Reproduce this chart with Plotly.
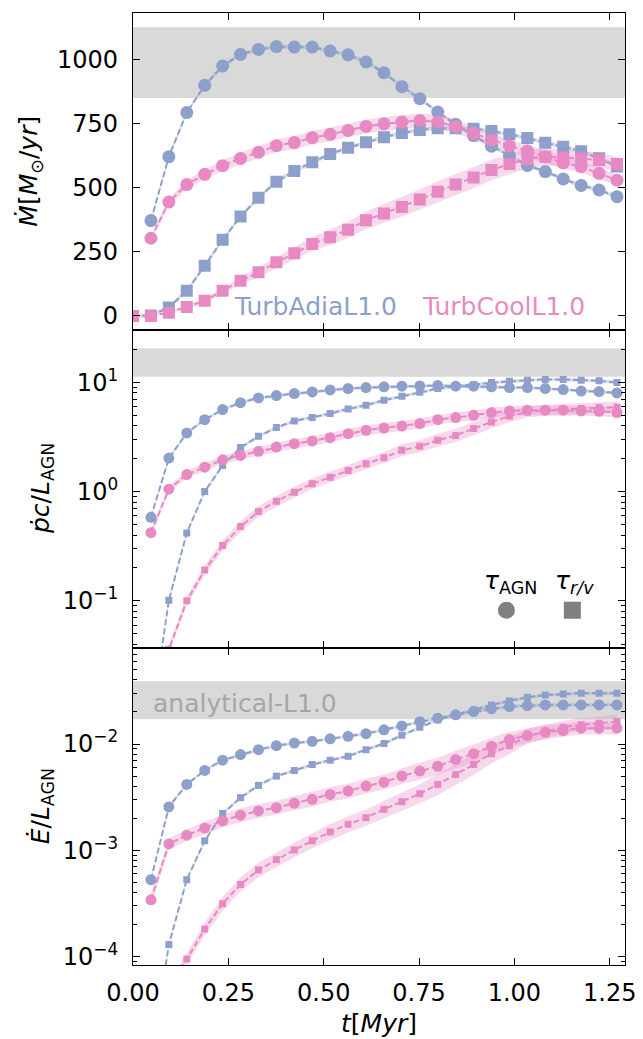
import numpy as np
import plotly.graph_objects as go
from plotly.subplots import make_subplots

# ---------------- data ----------------
t = [0.047, 0.094, 0.141, 0.188, 0.235, 0.282, 0.329, 0.376, 0.423, 0.470,
     0.517, 0.564, 0.611, 0.658, 0.705, 0.752, 0.799, 0.846, 0.893, 0.940,
     0.987, 1.034, 1.081, 1.128, 1.175, 1.222, 1.269]
t_rv_top = [0.000, 0.047, 0.094, 0.141, 0.188, 0.235, 0.282, 0.329, 0.376, 0.423,
            0.470, 0.517, 0.564, 0.611, 0.658, 0.705, 0.752, 0.799, 0.846, 0.893,
            0.940, 0.987, 1.034, 1.081, 1.128, 1.175, 1.222, 1.269]

# Mdot [Msun/yr]
mdot_adia_agn = [372, 621, 793, 899, 974, 1020, 1039, 1050, 1048, 1048, 1033, 1018, 990, 948,
                 894, 847, 795, 747, 703, 662, 625, 587, 563, 534, 509, 491, 465]
mdot_adia_rv = [0, 2, 33, 98, 196, 297, 388, 461, 523, 565, 599, 631, 656, 677, 697, 713,
                725, 732, 732, 730, 721, 708, 694, 675, 660, 642, 615, 583]
mdot_cool_agn = [303, 444, 512, 552, 586, 614, 638, 664, 676, 695, 708, 723, 739, 749, 756,
                 762, 756, 739, 712, 686, 663, 643, 621, 597, 582, 556, 529]
mdot_cool_rv = [0, 0, 13, 35, 59, 98, 137, 170, 209, 244, 281, 307, 336, 373, 399, 425, 454,
                484, 512, 540, 569, 592, 612, 621, 618, 614, 608, 592]

# pdot c / L_AGN
pdot_adia_agn = [0.58, 2.02, 3.43, 4.54, 5.61, 6.5, 7.18, 7.55, 7.87, 8.15, 8.5, 8.75, 8.93,
                 9.06, 9.19, 9.25, 9.32, 9.19, 9.19, 9.06, 8.93, 8.93, 8.75, 8.56, 8.3, 8.2, 7.98]
pdot_adia_rv = [0.0076, 0.101, 0.418, 1.0, 1.73, 2.52, 3.2, 3.84, 4.42, 4.74, 5.16, 5.69, 6.15,
                6.84, 7.44, 8.09, 8.75, 9.19, 9.52, 9.93, 10.2, 10.4, 10.6, 10.6, 10.4, 10.3, 9.93]
pdot_cool_agn = [0.42, 1.05, 1.43, 1.67, 1.95, 2.14, 2.33, 2.55, 2.74, 2.9, 3.11, 3.38, 3.63,
                 3.81, 3.97, 4.18, 4.54, 4.74, 4.98, 5.27, 5.46, 5.54, 5.54, 5.54, 5.46, 5.42, 5.27]
pdot_cool_rv = [0.005, 0.036, 0.1, 0.191, 0.32, 0.478, 0.656, 0.815, 0.986, 1.18, 1.35, 1.56,
                1.79, 2.04, 2.38, 2.59, 2.94, 3.26, 3.76, 4.33, 4.88, 5.34, 5.54, 5.65, 5.75,
                5.86, 5.94]

# Edot / L_AGN
edot_adia_agn = [5.3e-4, 2.56e-3, 4.17e-3, 5.64e-3, 7.04e-3, 7.95e-3, 8.85e-3, 9.65e-3, 1.02e-2,
                 1.06e-2, 1.12e-2, 1.18e-2, 1.25e-2, 1.36e-2, 1.48e-2, 1.62e-2, 1.75e-2, 1.88e-2,
                 2.02e-2, 2.14e-2, 2.25e-2, 2.30e-2, 2.33e-2, 2.33e-2, 2.33e-2, 2.33e-2, 2.33e-2]
edot_adia_rv = [1.0e-5, 1.3e-4, 5.3e-4, 1.23e-3, 2.22e-3, 3.13e-3, 4.08e-3, 4.99e-3, 5.63e-3,
                6.41e-3, 7.04e-3, 7.67e-3, 8.85e-3, 1.01e-2, 1.21e-2, 1.44e-2, 1.69e-2, 1.88e-2,
                2.09e-2, 2.33e-2, 2.54e-2, 2.75e-2, 2.89e-2, 2.95e-2, 3.0e-2, 3.0e-2, 3.0e-2]
edot_cool_agn = [3.43e-4, 1.15e-3, 1.39e-3, 1.62e-3, 1.89e-3, 2.14e-3, 2.35e-3, 2.52e-3, 2.77e-3,
                 3.02e-3, 3.36e-3, 3.61e-3, 4.02e-3, 4.38e-3, 4.99e-3, 5.56e-3, 6.18e-3, 7.14e-3,
                 8.12e-3, 9.51e-3, 1.10e-2, 1.20e-2, 1.29e-2, 1.34e-2, 1.41e-2, 1.41e-2, 1.41e-2]
edot_cool_rv = [1.0e-5, 5.0e-5, 9.5e-5, 1.82e-4, 3.15e-4, 4.78e-4, 6.55e-4, 8.18e-4, 1.01e-3,
                1.23e-3, 1.49e-3, 1.76e-3, 2.03e-3, 2.43e-3, 2.87e-3, 3.41e-3, 4.17e-3, 5.17e-3,
                6.41e-3, 8.12e-3, 9.65e-3, 1.18e-2, 1.31e-2, 1.44e-2, 1.52e-2, 1.57e-2, 1.63e-2]

# uncertainty half-widths (linear units for Mdot, dex for the log panels)
band_adia_top = 8
band_cool_agn_top = [10, 14, 17, 19, 21, 23, 24, 25, 26, 27, 27, 27, 27, 27, 27, 27, 27, 27,
                     26, 26, 25, 25, 24, 24, 23, 23, 22]
band_cool_rv_top = [0, 2, 4, 6, 9, 12, 15, 18, 21, 24, 27, 30, 32, 34, 36, 38, 40, 41, 42, 42,
                    40, 38, 36, 34, 32, 30, 29, 28]
band_adia_dex = 0.015
band_cool_agn_mid = [0.03, 0.03, 0.035, 0.035, 0.04, 0.04, 0.04, 0.045, 0.045, 0.045, 0.045,
                     0.045, 0.045, 0.045, 0.045, 0.045, 0.045, 0.045, 0.045, 0.045, 0.045,
                     0.045, 0.045, 0.045, 0.045, 0.045, 0.045]
band_cool_rv_mid = [0.03, 0.04, 0.04, 0.045, 0.05, 0.05, 0.05, 0.05, 0.05, 0.05, 0.05, 0.05,
                    0.05, 0.05, 0.055, 0.055, 0.06, 0.06, 0.06, 0.06, 0.055, 0.05, 0.05, 0.05,
                    0.05, 0.05, 0.05]
band_cool_agn_bot = [0.05, 0.05, 0.055, 0.06, 0.06, 0.065, 0.065, 0.065, 0.065, 0.07, 0.07,
                     0.07, 0.07, 0.07, 0.075, 0.08, 0.08, 0.085, 0.085, 0.08, 0.075, 0.07,
                     0.065, 0.06, 0.06, 0.06, 0.06]
band_cool_rv_bot = [0.05, 0.05, 0.06, 0.06, 0.065, 0.065, 0.07, 0.07, 0.07, 0.07, 0.075, 0.075,
                    0.075, 0.08, 0.085, 0.09, 0.1, 0.1, 0.1, 0.09, 0.08, 0.07, 0.065, 0.06,
                    0.06, 0.06, 0.06]

# analytical ranges (grey bands)
mdot_analytic = [850, 1125]
pdot_analytic = [11.2, 20.4]
edot_analytic = [0.0171, 0.0389]

x_ticks = [0.0, 0.25, 0.5, 0.75, 1.0, 1.25]
mdot_ticks = [0, 250, 500, 750, 1000]
pdot_ticks = [0.1, 1, 10]
pdot_ticktext = ["10<sup>−1</sup>", "10<sup>0</sup>", "10<sup>1</sup>"]
edot_ticks = [1e-4, 1e-3, 1e-2]
edot_ticktext = ["10<sup>−4</sup>", "10<sup>−3</sup>", "10<sup>−2</sup>"]

# ---------------- style ----------------
BLUE = "#8da0cb"
PINK = "#e78ac3"
BLUE_BAND = "rgba(141,160,203,0.35)"
PINK_BAND = "rgba(231,138,195,0.32)"
GREY_BAND = "#d9d9d9"
FONT = "DejaVu Sans"
FS = 24

fig = make_subplots(rows=3, cols=1, shared_xaxes=True, vertical_spacing=0)


def add_grey(row, lims):
    fig.add_trace(go.Scatter(x=[-1, 2, 2, -1], y=[lims[0], lims[0], lims[1], lims[1]],
                             fill="toself", fillcolor=GREY_BAND, mode="lines",
                             line=dict(width=0), hoverinfo="skip", showlegend=False),
                  row=row, col=1)


def add_band(row, x, lo, hi, color):
    fig.add_trace(go.Scatter(x=list(x) + list(x)[::-1], y=list(hi) + list(lo)[::-1],
                             fill="toself", fillcolor=color, mode="lines",
                             line=dict(width=0), hoverinfo="skip", showlegend=False),
                  row=row, col=1)


def add_series(row, x, y, color, symbol, size):
    fig.add_trace(go.Scatter(x=x, y=y, mode="lines+markers",
                             line=dict(color=color, width=2, dash="6px,3px"),
                             marker=dict(color=color, symbol=symbol, size=size, line=dict(width=0)),
                             showlegend=False, cliponaxis=True),
                  row=row, col=1)


def lin_band(v, w):
    w = w if isinstance(w, list) else [w] * len(v)
    return [a - b for a, b in zip(v, w)], [a + b for a, b in zip(v, w)]


def log_band(v, w):
    w = w if isinstance(w, list) else [w] * len(v)
    return ([a / 10 ** b for a, b in zip(v, w)], [a * 10 ** b for a, b in zip(v, w)])


# top panel
add_grey(1, mdot_analytic)
for x, v, w, c in [(t, mdot_adia_agn, band_adia_top, BLUE_BAND),
                   (t_rv_top, mdot_adia_rv, band_adia_top, BLUE_BAND),
                   (t, mdot_cool_agn, band_cool_agn_top, PINK_BAND),
                   (t_rv_top, mdot_cool_rv, band_cool_rv_top, PINK_BAND)]:
    lo, hi = lin_band(v, w)
    add_band(1, x, lo, hi, c)
add_series(1, t, mdot_adia_agn, BLUE, "circle", 13)
add_series(1, t_rv_top, mdot_adia_rv, BLUE, "square", 12)
add_series(1, t, mdot_cool_agn, PINK, "circle", 13)
add_series(1, t_rv_top, mdot_cool_rv, PINK, "square", 12)

# middle panel
add_grey(2, pdot_analytic)
for v, w, c in [(pdot_adia_agn, band_adia_dex, BLUE_BAND), (pdot_adia_rv, band_adia_dex, BLUE_BAND),
                (pdot_cool_agn, band_cool_agn_mid, PINK_BAND), (pdot_cool_rv, band_cool_rv_mid, PINK_BAND)]:
    lo, hi = log_band(v, w)
    add_band(2, t, lo, hi, c)
add_series(2, t, pdot_adia_agn, BLUE, "circle", 11)
add_series(2, t, pdot_adia_rv, BLUE, "square", 7)
add_series(2, t, pdot_cool_agn, PINK, "circle", 11)
add_series(2, t, pdot_cool_rv, PINK, "square", 7)

# bottom panel
add_grey(3, edot_analytic)
for v, w, c in [(edot_adia_agn, band_adia_dex, BLUE_BAND), (edot_adia_rv, band_adia_dex, BLUE_BAND),
                (edot_cool_agn, band_cool_agn_bot, PINK_BAND), (edot_cool_rv, band_cool_rv_bot, PINK_BAND)]:
    lo, hi = log_band(v, w)
    add_band(3, t, lo, hi, c)
add_series(3, t, edot_adia_agn, BLUE, "circle", 11)
add_series(3, t, edot_adia_rv, BLUE, "square", 7)
add_series(3, t, edot_cool_agn, PINK, "circle", 11)
add_series(3, t, edot_cool_rv, PINK, "square", 7)

# ---------------- axes ----------------
axis_common = dict(showline=True, linecolor="black", linewidth=1.2, mirror="allticks",
                   ticks="inside", ticklen=7, tickwidth=1.3, tickcolor="black",
                   showgrid=False, zeroline=False,
                   tickfont=dict(family=FONT, size=FS, color="black"))

for r in (1, 2, 3):
    fig.update_xaxes(range=[0, 1.29], tickvals=x_ticks, tickformat=".2f",
                     ticklabelstandoff=6, row=r, col=1, **axis_common)
fig.update_xaxes(showticklabels=False, row=1, col=1)
fig.update_xaxes(showticklabels=False, row=2, col=1)


def minor_log(lo_exp, hi_exp):
    return [m * 10.0 ** e for e in range(lo_exp, hi_exp + 1) for m in range(2, 10)]


minor_style = dict(ticks="inside", ticklen=4, tickwidth=1, tickcolor="black", showgrid=False)

fig.update_yaxes(range=[-56, 1181], tickvals=mdot_ticks, ticktext=[str(v) for v in mdot_ticks],
                 ticklabelstandoff=9, row=1, col=1, **axis_common)
fig.update_yaxes(type="log", range=[np.log10(0.0373), np.log10(29.8)], tickvals=pdot_ticks,
                 ticktext=pdot_ticktext, ticklabelstandoff=9,
                 minor=dict(tickvals=minor_log(-2, 1), **minor_style), row=2, col=1, **axis_common)
fig.update_yaxes(type="log", range=[np.log10(8.36e-5), np.log10(0.0805)], tickvals=edot_ticks,
                 ticktext=edot_ticktext, ticklabelstandoff=9,
                 minor=dict(tickvals=minor_log(-5, -2), **minor_style), row=3, col=1, **axis_common)

# ---------------- text ----------------
# page body has an 8px margin: figure is shifted by (8, 8)
OFF = 8
L, R, T, B = 133 - OFF, 18, 13 - OFF, 74
W, H = 643 - OFF, 1039 - OFF
pw = W - L - R


def px_x(px):
    return (px - OFF - L) / pw


annots = [
    dict(text="<i>Ṁ</i>[<i>M</i><sub>⊙</sub>/<i>yr</i>]", x=px_x(30), y=5 / 6, xref="paper",
         yref="paper", textangle=-90),
    dict(text="<i>ṗc</i>/<i>L</i><sub>AGN</sub>", x=px_x(42), y=0.5, xref="paper", yref="paper",
         textangle=-90),
    dict(text="<i>Ė</i>/<i>L</i><sub>AGN</sub>", x=px_x(42), y=1 / 6, xref="paper", yref="paper",
         textangle=-90),
    dict(text="<i>t</i>[<i>Myr</i>]", x=0.5, y=-0.061, xref="paper", yref="paper"),
]
for a in annots:
    fig.add_annotation(showarrow=False, xanchor="center", yanchor="middle",
                       font=dict(family=FONT, size=25, color="black"), **a)

# model labels
fig.add_annotation(text="TurbAdiaL1.0", x=0.26, y=38, xref="x", yref="y", xanchor="left",
                   yanchor="middle", showarrow=False, font=dict(family=FONT, size=25, color=BLUE))
fig.add_annotation(text="TurbCoolL1.0", x=0.753, y=38, xref="x", yref="y", xanchor="left",
                   yanchor="middle", showarrow=False, font=dict(family=FONT, size=25, color=PINK))

# tau key
fig.add_annotation(text="<i>τ</i><sub>AGN</sub>", x=0.767, y=0.207, xref="x2 domain",
                   yref="y2 domain", xanchor="center", yanchor="middle", showarrow=False,
                   font=dict(family=FONT, size=25, color="black"))
fig.add_annotation(text="<i>τ</i><sub><i>r/v</i></sub>", x=0.898, y=0.207, xref="x2 domain",
                   yref="y2 domain", xanchor="center", yanchor="middle", showarrow=False,
                   font=dict(family=FONT, size=25, color="black"))
hx, hy = 8.5 / pw, 8.5 / 317.3
fig.add_shape(type="circle", xref="x2 domain", yref="y2 domain", x0=0.759 - hx, x1=0.759 + hx,
              y0=0.118 - hy, y1=0.118 + hy, fillcolor="#808080", line=dict(width=0))
fig.add_shape(type="rect", xref="x2 domain", yref="y2 domain", x0=0.893 - hx, x1=0.893 + hx,
              y0=0.118 - hy, y1=0.118 + hy, fillcolor="#808080", line=dict(width=0))

fig.add_annotation(text="analytical-L1.0", x=0.037, y=0.824, xref="x3 domain", yref="y3 domain",
                   xanchor="left", yanchor="middle", showarrow=False,
                   font=dict(family=FONT, size=25, color="#a6a6a6"))

fig.update_layout(width=W, height=H, margin=dict(l=L, r=R, t=T, b=B),
                  plot_bgcolor="white", paper_bgcolor="white", showlegend=False,
                  font=dict(family=FONT, size=FS, color="black"))

fig.write_html("out.html")
